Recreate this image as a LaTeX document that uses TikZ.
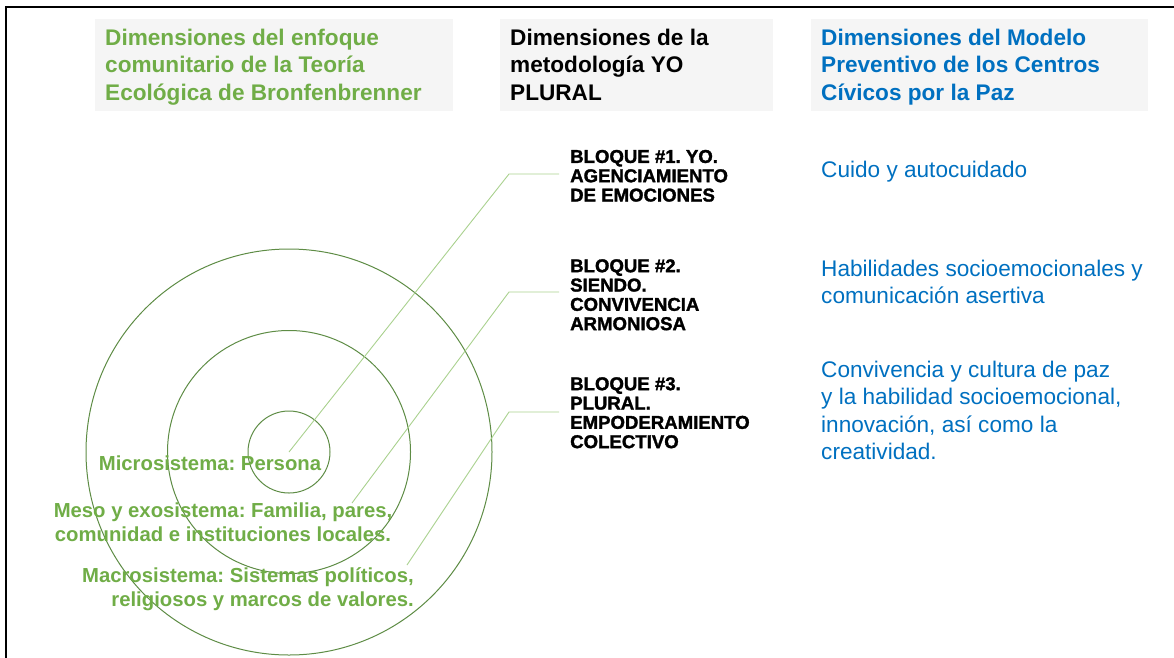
\documentclass[tikz,border=0pt]{standalone}
\usepackage{fontspec}
\setmainfont{Liberation Sans}
\newfontfamily\heavyfont[FakeBold=1.6]{Liberation Sans Bold}
\usetikzlibrary{calc}
\frenchspacing
\definecolor{hgreen}{HTML}{70AD47}
\definecolor{hblue}{HTML}{0070C0}
\definecolor{boxgray}{HTML}{F5F5F5}
\definecolor{ringgreen}{HTML}{5E8C45}
\definecolor{linkgreen}{HTML}{A9D18E}
\tikzset{
  hdr/.style={anchor=north west, inner sep=0pt, align=left, font={\fontsize{22.6}{27.5}\selectfont\bfseries}},
  rtext/.style={anchor=north west, inner sep=0pt, align=left, text=hblue, font={\fontsize{22.6}{27.5}\selectfont}},
  blk/.style={anchor=north west, inner sep=0pt, align=left, text=black, font={\heavyfont\fontsize{18.6}{19.3}\selectfont}},
  glabel/.style={inner sep=0pt, text=hgreen, font={\fontsize{20.3}{24}\selectfont\bfseries}},
  ring/.style={circle, draw=ringgreen, line width=1pt, inner sep=0pt, outer sep=0pt},
  link/.style={draw=linkgreen, line width=0.9pt}
}
\begin{document}
\begin{tikzpicture}[x=1pt,y=-1pt]
\useasboundingbox (0,0) rectangle (1174,657);
% frame
\draw[line width=2.5pt] (6,660) -- (6,7) -- (1176,7);
% header boxes
\fill[boxgray] (95,19) rectangle (453,111);
\fill[boxgray] (500,19) rectangle (773,111);
\fill[boxgray] (811,19) rectangle (1148,111);
% headers
\node[hdr, text=hgreen] (h1) at (105,25.75) {\strut Dimensiones del enfoque\\comunitario de la Teoría\\Ecológica de Bronfenbrenner};
\node[hdr, text=black] (h2) at (510,25.75) {\strut Dimensiones de la\\metodología YO\\PLURAL};
\node[hdr, text=hblue] (h3) at (821,25.75) {\strut Dimensiones del Modelo\\Preventivo de los Centros\\Cívicos por la Paz};
% circles
\coordinate (ctr) at (289,452);
\node[ring, minimum size=406pt] (outer) at (ctr) {};
\node[ring, minimum size=243pt] (middle) at (ctr) {};
\node[ring, minimum size=82pt] (inner) at (ctr) {};
% block labels
\node[blk] (b1) at (570,149.2) {\strut BLOQUE \#1. YO.\\AGENCIAMIENTO\\DE EMOCIONES};
\node[blk] (b2) at (570,258.5) {\strut BLOQUE \#2.\\SIENDO.\\CONVIVENCIA\\ARMONIOSA};
\node[blk] (b3) at (570,376.5) {\strut BLOQUE \#3.\\PLURAL.\\EMPODERAMIENTO\\COLECTIVO};
% right column
\node[rtext] (r1) at (821,157.75) {\strut Cuido y autocuidado};
\node[rtext] (r2) at (821,256.75) {\strut Habilidades socioemocionales y\\comunicación asertiva};
\node[rtext] (r3) at (821,357.75) {\strut Convivencia y cultura de paz\\y la habilidad socioemocional,\\innovación, así como la\\creatividad.};
% connectors
\coordinate (s2) at (352,503);
\coordinate (s3) at (407,565);
\coordinate (k1) at (509,174);
\coordinate (k2) at (509,292);
\coordinate (k3) at (509,412);
\coordinate (e1) at (559,174);
\coordinate (e2) at (559,292);
\coordinate (e3) at (559,412);
\draw[link] (ctr) -- (k1) -- (e1);
\draw[link] (s2) -- (k2) -- (e2);
\draw[link] (s3) -- (k3) -- (e3);
% green labels
\node[glabel, anchor=north, align=center] (micro) at (210,453.2) {\strut Microsistema: Persona};
\node[glabel, anchor=north, align=center] (meso) at (223,500.2) {\strut Meso y exosistema: Familia, pares,\\comunidad e instituciones locales.};
\node[glabel, anchor=north east, align=right] (macro) at (414,565.2) {\strut Macrosistema: Sistemas políticos,\\religiosos y marcos de valores.};
\end{tikzpicture}
\end{document}
